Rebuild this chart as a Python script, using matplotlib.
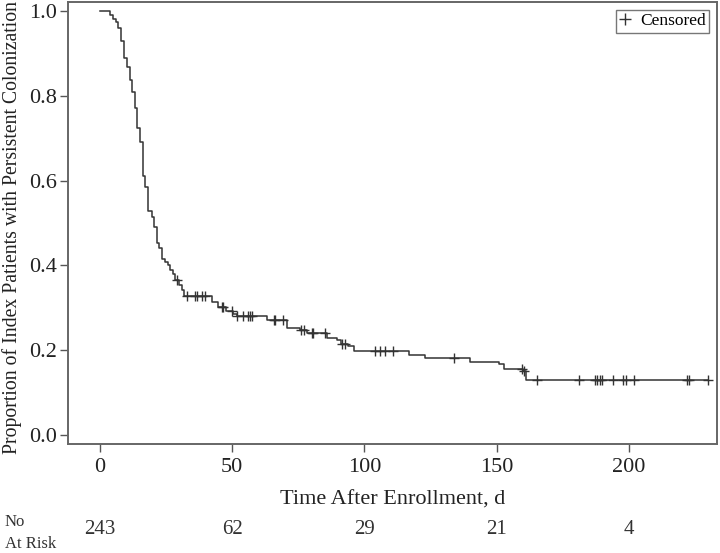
import matplotlib
matplotlib.use('Agg')
import matplotlib.pyplot as plt
import matplotlib.transforms as mtransforms
from matplotlib.lines import Line2D
import numpy as np

plt.rcParams['font.family'] = ['Liberation Serif', 'DejaVu Serif']

# Kaplan-Meier step estimates (time in days, survival)
event_times = [0, 3.8, 5.0, 6.0, 6.9, 7.9, 9.2, 10.3, 11.3, 12.2, 13.2, 14.1,
               15.1, 16.1, 17.0, 18.3, 19.5, 20.4, 21.4, 22.4, 23.3, 24.6,
               25.6, 26.5, 27.5, 28.4, 30.0, 30.9, 31.8, 42.2, 44.7, 47.6,
               50.4, 51.7, 63.0, 70.6, 75.6, 78.1, 85.7, 89.5, 91.0, 93.9,
               96.0, 117.0, 122.9, 139.9, 151.0, 152.7, 159.8, 160.9]
surv = [1.0, 0.991, 0.98, 0.974, 0.96, 0.93, 0.89, 0.867, 0.838, 0.808, 0.77,
        0.725, 0.692, 0.612, 0.584, 0.529, 0.514, 0.49, 0.452, 0.44, 0.416,
        0.409, 0.40, 0.39, 0.379, 0.365, 0.353, 0.341, 0.328, 0.314, 0.302,
        0.292, 0.286, 0.28, 0.271, 0.253, 0.249, 0.241, 0.23, 0.224, 0.216,
        0.209, 0.198, 0.19, 0.183, 0.173, 0.167, 0.157, 0.151, 0.13]
end_time = 230.0

censor_times = [29.0, 32.8, 35.9, 36.5, 38.4, 39.7, 46.0, 46.6, 49.8, 51.9,
                54.2, 56.1, 56.7, 57.4, 65.8, 66.2, 69.1, 76.2, 77.1, 80.0,
                80.7, 85.1, 91.7, 92.6, 104.0, 105.9, 107.8, 110.9, 133.8,
                159.4, 160.3, 165.1, 181.2, 187.1, 188.0, 189.0, 189.9, 193.8,
                197.8, 198.8, 202.0, 222.0, 222.8, 230.0]

risk_times = [0, 50, 100, 150, 200]
risk_counts = [243, 62, 29, 21, 4]

fig = plt.figure(figsize=(7.2, 5.53), dpi=100)
ax = fig.add_axes([0.0944, 0.197, 0.9014, 0.7994])

t_line = event_times + [end_time]
s_line = surv + [surv[-1]]
ax.step(t_line, s_line, where='post', color='#333333', lw=1.1)

# censor marks sit on the curve
idx = np.searchsorted(event_times, censor_times, side='right') - 1
censor_s = np.array(surv)[idx]
ax.plot(censor_times, censor_s, ls='none', marker='+', ms=7, mew=1.0,
        color='#333333')

ax.set_xlim(-12.1, 233.3)
ax.set_ylim(-0.021, 1.021)
ax.set_xticks([0, 50, 100, 150, 200])
ax.set_yticks([0.0, 0.2, 0.4, 0.6, 0.8, 1.0])
ax.set_yticklabels(['0.0', '0.2', '0.4', '0.6', '0.8', '1.0'])
ax.tick_params(direction='out', length=6, width=1.0, color='#555555',
               labelsize=16, pad=2, labelcolor='#222222')
ax.tick_params(axis='x', pad=4)
for sp in ax.spines.values():
    sp.set_color('#666666')
    sp.set_linewidth(1.4)

ax.set_xlabel('Time After Enrollment, d', fontsize=16, labelpad=10,
              color='#222222')
ax.set_ylabel('Proportion of Index Patients with Persistent Colonization',
              fontsize=14.2, color='#222222')
ax.yaxis.set_label_coords(-0.071, 0.489)

leg_handle = Line2D([], [], ls='none', marker='+', ms=8, mew=1.0,
                    color='#333333')
leg = ax.legend([leg_handle], ['Censored'], loc='upper right', fontsize=12.5,
                frameon=True, fancybox=False, handlelength=0.7,
                handletextpad=0.5, borderpad=0.2, borderaxespad=0.45)
leg.get_frame().set_edgecolor('#555555')
leg.get_frame().set_linewidth(1.0)

# number at risk row
trans = mtransforms.blended_transform_factory(ax.transData, fig.transFigure)
for t, n in zip(risk_times, risk_counts):
    ax.text(t, 1 - 530 / 553, str(n), transform=trans, ha='center',
            va='center', fontsize=15, color='#333333', clip_on=False)
fig.text(5 / 720, 1 - 522 / 553, 'No', ha='left', va='center', fontsize=12,
         color='#333333')
fig.text(5 / 720, 1 - 544 / 553, 'At Risk', ha='left', va='center',
         fontsize=12, color='#333333')

fig.savefig('out.png', dpi=100)
